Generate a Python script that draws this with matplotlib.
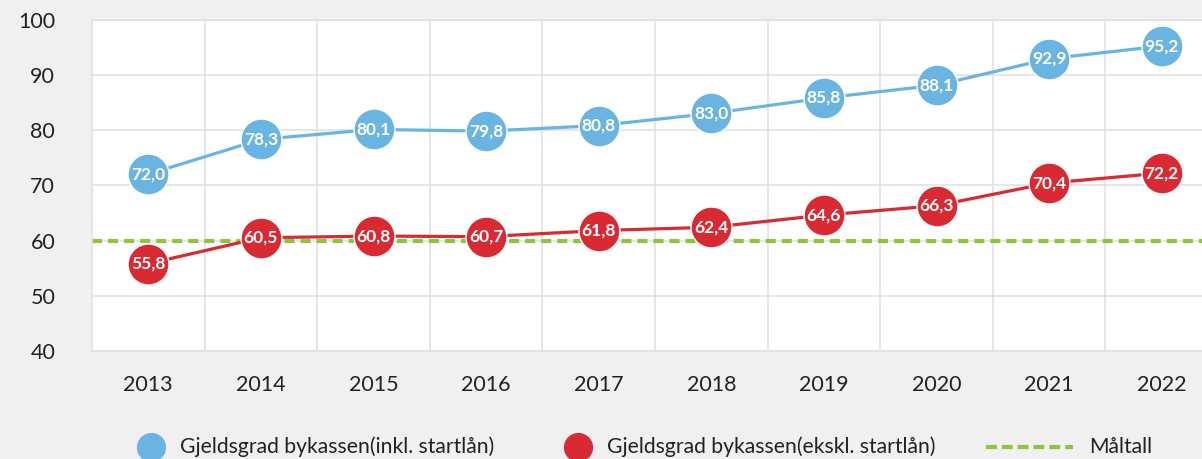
import matplotlib
matplotlib.use("Agg")
import matplotlib.pyplot as plt
from matplotlib.lines import Line2D

plt.rcParams['font.family'] = ['Lato', 'DejaVu Sans']

years = ["2013", "2014", "2015", "2016", "2017", "2018", "2019", "2020", "2021", "2022"]
inkl = [72.0, 78.3, 80.1, 79.8, 80.8, 83.0, 85.8, 88.1, 92.9, 95.2]
ekskl = [55.8, 60.5, 60.8, 60.7, 61.8, 62.4, 64.6, 66.3, 70.4, 72.2]
target = 60
y_ticks = [40, 50, 60, 70, 80, 90, 100]
series_names = ["Gjeldsgrad bykassen(inkl. startlån)",
                "Gjeldsgrad bykassen(ekskl. startlån)",
                "Måltall"]

BLUE = "#6ab4e3"
RED = "#d92a33"
GREEN = "#8cc63f"
BG = "#f0f0f0"
GRID = "#e1e1e1"
TXT = "#222222"

W, H = 1202, 459
fig = plt.figure(figsize=(W / 100, H / 100), dpi=100, facecolor=BG)
ax = fig.add_axes([92 / W, (H - 351) / H, 1126 / W, (351 - 19.5) / H])
ax.set_facecolor("white")

x = list(range(len(years)))
ax.set_xlim(-0.5, len(years) - 0.5)
ax.set_ylim(40, 100)
ax.set_yticks(y_ticks)
ax.set_yticklabels([str(t) for t in y_ticks])
ax.set_xticks(x)
ax.set_xticklabels(years)
ax.set_xticks([i + 0.5 for i in x[:-1]], minor=True)
ax.grid(True, axis="y", which="major", color=GRID, lw=1.2)
ax.grid(True, axis="x", which="minor", color=GRID, lw=1.2)
ax.set_axisbelow(True)
ax.tick_params(axis="both", which="both", length=0)
ax.tick_params(axis="y", labelsize=15.5, pad=26.5, colors=TXT)
ax.tick_params(axis="x", labelsize=15.5, pad=17, colors=TXT)
for s in ax.spines.values():
    s.set_color(GRID)
    s.set_linewidth(1.2)

ax.axhline(target, color=GREEN, lw=3, dashes=(2.4, 1.45), zorder=2)

for vals, col in ((inkl, BLUE), (ekskl, RED)):
    ax.plot(x, vals, color=col, lw=2.3, zorder=3)
    ax.plot(x, vals, ls="none", marker="o", ms=29.5, mfc=col, mec="white",
            mew=1.0, zorder=4)
    for xi, v in zip(x, vals):
        ax.text(xi, v, f"{v:.1f}".replace(".", ","), ha="center", va="center",
                color="white", fontsize=12.5, fontweight="bold", zorder=5)

# legend (figure coordinates)
ly = (H - 447) / H
fs = 15.2
fig.add_artist(Line2D([151 / W], [ly], marker="o", ms=20, mfc=BLUE, mec=BLUE,
                      ls="none", transform=fig.transFigure))
fig.text(180 / W, ly, series_names[0], fontsize=fs, color=TXT, va="center", ha="left")
fig.add_artist(Line2D([578 / W], [ly], marker="o", ms=20, mfc=RED, mec=RED,
                      ls="none", transform=fig.transFigure))
fig.text(607 / W, ly, series_names[1], fontsize=fs, color=TXT, va="center", ha="left")
fig.add_artist(Line2D([986 / W, 1073 / W], [ly, ly], color=GREEN, lw=3,
                      dashes=(2.6, 1.2), transform=fig.transFigure))
fig.text(1089 / W, ly, series_names[2], fontsize=fs, color=TXT, va="center", ha="left")

fig.savefig("out.png", dpi=100, facecolor=BG)
